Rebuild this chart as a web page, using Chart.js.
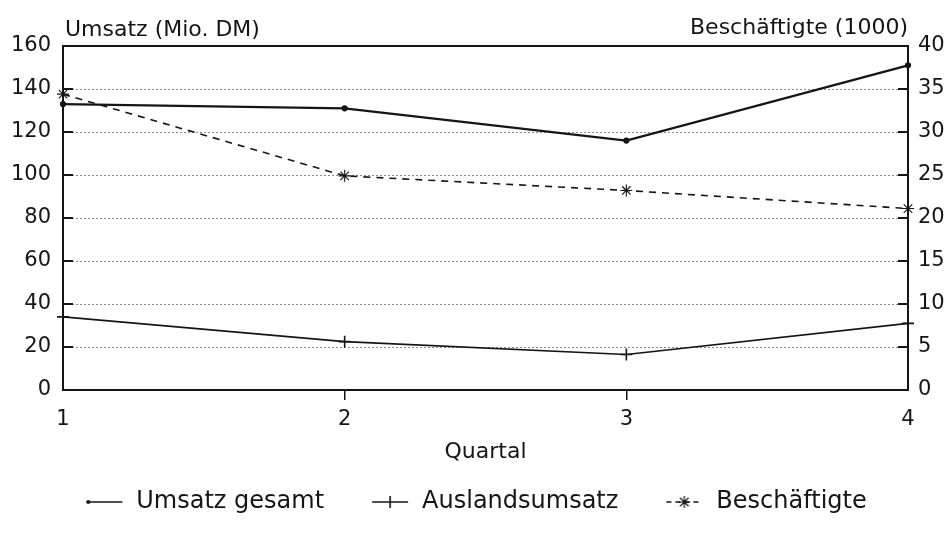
<!DOCTYPE html>
<html>
<head>
<meta charset="utf-8">
<script src="https://cdn.jsdelivr.net/npm/chart.js@4.4.0/dist/chart.umd.min.js"></script>
<style>
  html, body { margin: 0; padding: 0; background: #fff; }
  #wrap { width: 951px; height: 534px; }
</style>
</head>
<body>
<div id="wrap"><canvas id="myChart"></canvas></div>
<script>
// data
const quartale = ['1', '2', '3', '4'];
const umsatzGesamt = [133, 131, 116, 151];     // Mio. DM, left axis
const auslandsumsatz = [34, 22.5, 16.5, 31];   // Mio. DM, left axis
const beschaeftigte = [34.4, 24.9, 23.2, 21.1]; // 1000, right axis
const umsatzTicks = [0, 20, 40, 60, 80, 100, 120, 140, 160];
const personalTicks = [0, 5, 10, 15, 20, 25, 30, 35, 40];

const ink = '#151515';
const fontFamily = '"DejaVu Sans", sans-serif';

// little legend icons: line with its marker
function legendIcon(kind) {
    const c = document.createElement('canvas');
    c.width = 40; c.height = 20;
    const g = c.getContext('2d');
    g.strokeStyle = ink;
    g.fillStyle = ink;
    g.lineWidth = 1.6;
    if (kind === 'dash') g.setLineDash([5, 4]);
    g.beginPath(); g.moveTo(2, 10); g.lineTo(38, 10); g.stroke();
    g.setLineDash([]);
    if (kind === 'dot') {
        g.beginPath(); g.arc(4, 10, 2, 0, Math.PI * 2); g.fill();
    } else if (kind === 'plus') {
        g.beginPath(); g.moveTo(20, 4); g.lineTo(20, 16); g.stroke();
    } else {
        g.lineWidth = 1.2;
        g.beginPath();
        for (let i = 0; i < 4; i++) {
            const a = i * Math.PI / 4;
            g.moveTo(20 - 6 * Math.cos(a), 10 - 6 * Math.sin(a));
            g.lineTo(20 + 6 * Math.cos(a), 10 + 6 * Math.sin(a));
        }
        g.stroke();
    }
    return c;
}
const icons = [legendIcon('dot'), legendIcon('plus'), legendIcon('dash')];

const framePlugin = {
    id: 'frame',
    afterDraw(chart) {
        const { ctx, chartArea: a, scales } = chart;
        ctx.save();
        ctx.strokeStyle = ink;
        ctx.lineWidth = 2;
        ctx.beginPath();
        ctx.moveTo(a.left, a.top);
        ctx.lineTo(a.right, a.top);
        ctx.stroke();
        // short solid tick stubs on the inside of both axes
        ctx.lineWidth = 2;
        umsatzTicks.slice(1, -1).forEach(v => {
            const y = scales.y.getPixelForValue(v);
            ctx.beginPath();
            ctx.moveTo(a.left, y); ctx.lineTo(a.left + 10, y);
            ctx.moveTo(a.right - 10, y); ctx.lineTo(a.right, y);
            ctx.stroke();
        });
        ctx.fillStyle = ink;
        ctx.font = '22px ' + fontFamily;
        ctx.textBaseline = 'alphabetic';
        ctx.textAlign = 'left';
        ctx.fillText('Umsatz (Mio. DM)', a.left + 2, 36);
        ctx.textAlign = 'right';
        ctx.fillText('Beschäftigte (1000)', a.right, 34);
        ctx.restore();
    }
};

const data = {
    labels: quartale,
    datasets: [{
        label: 'Umsatz gesamt',
        data: umsatzGesamt,
        yAxisID: 'y',
        borderColor: ink,
        backgroundColor: ink,
        borderWidth: 2.2,
        pointStyle: 'circle',
        pointRadius: 2,
        tension: 0,
        clip: false
    }, {
        label: 'Auslandsumsatz',
        data: auslandsumsatz,
        yAxisID: 'y',
        borderColor: ink,
        backgroundColor: ink,
        borderWidth: 1.6,
        pointStyle: 'cross',
        pointRadius: 6,
        pointBorderWidth: 1.6,
        tension: 0,
        clip: false
    }, {
        label: 'Beschäftigte',
        data: beschaeftigte,
        yAxisID: 'y1',
        borderColor: ink,
        backgroundColor: ink,
        borderWidth: 1.6,
        borderDash: [7, 6],
        pointStyle: 'star',
        pointRadius: 6,
        pointBorderWidth: 1.1,
        tension: 0,
        clip: false
    }]
};

const config = {
    type: 'line',
    data: data,
    plugins: [framePlugin],
    options: {
        responsive: true,
        maintainAspectRatio: false,
        animation: false,
        layout: { padding: { top: 46, bottom: 10, left: 0, right: 0 } },
        scales: {
            x: {
                type: 'category',
                offset: false,
                grid: {
                    drawOnChartArea: false,
                    drawTicks: true,
                    tickLength: 10,
                    lineWidth: 1.5,
                    color: ctx => (ctx.index === 1 || ctx.index === 2) ? ink : 'rgba(0,0,0,0)'
                },
                border: { color: ink, width: 2 },
                ticks: {
                    color: ink,
                    padding: 7,
                    maxRotation: 0,
                    font: { family: fontFamily, size: 21 }
                },
                title: {
                    display: true,
                    text: 'Quartal',
                    color: ink,
                    padding: { top: 0, bottom: -21 },
                    font: { family: fontFamily, size: 22 }
                },
                afterFit: s => { s.height = 54; }
            },
            y: {
                position: 'left',
                min: 0,
                max: 160,
                afterBuildTicks: s => { s.ticks = umsatzTicks.map(v => ({ value: v })); },
                grid: {
                    drawTicks: false,
                    lineWidth: 1,
                    color: ctx => (ctx.tick && (ctx.tick.value === 0 || ctx.tick.value === 160)) ? 'rgba(0,0,0,0)' : '#8a8a8a'
                },
                border: { color: ink, width: 2, dash: [2, 2] },
                ticks: {
                    color: ink,
                    padding: 12,
                    font: { family: fontFamily, size: 21 }
                },
                afterFit: s => { s.width = 63; }
            },
            y1: {
                position: 'right',
                min: 0,
                max: 40,
                afterBuildTicks: s => { s.ticks = personalTicks.map(v => ({ value: v })); },
                grid: { drawOnChartArea: false, drawTicks: false },
                border: { color: ink, width: 2 },
                ticks: {
                    color: ink,
                    padding: 10,
                    font: { family: fontFamily, size: 21 }
                },
                afterFit: s => { s.width = 43; }
            }
        },
        plugins: {
            tooltip: { enabled: false },
            legend: {
                position: 'bottom',
                labels: {
                    color: ink,
                    usePointStyle: true,
                    pointStyleWidth: 40,
                    padding: 46,
                    font: { family: fontFamily, size: 24 },
                    generateLabels: chart => {
                        const items = Chart.defaults.plugins.legend.labels.generateLabels(chart);
                        items.forEach((it, i) => { it.pointStyle = icons[i]; });
                        return items;
                    }
                }
            }
        }
    }
};

const myChart = new Chart(document.getElementById('myChart').getContext('2d'), config);
</script>
</body>
</html>
